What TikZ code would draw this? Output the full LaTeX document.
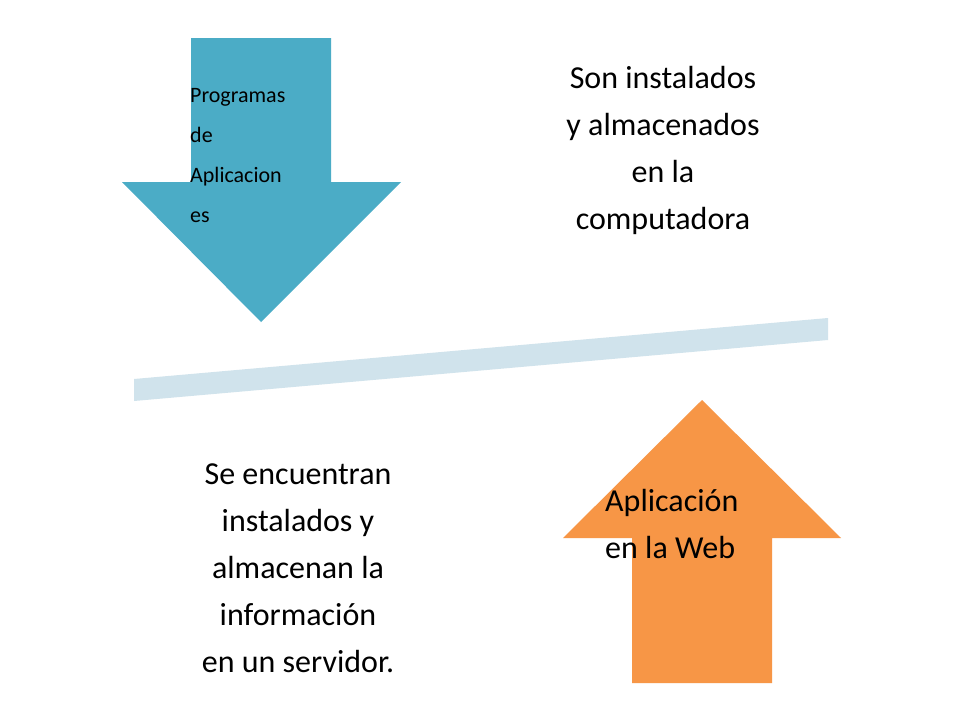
\documentclass[tikz,border=0pt]{standalone}
\usepackage{fontspec}
\setmainfont{Carlito}
\begin{document}
\begin{tikzpicture}[x=1pt,y=-1pt,
  big/.style={font=\fontsize{32}{47}\selectfont,align=center,inner sep=0pt},
  small/.style={font=\fontsize{22}{40}\selectfont,align=left,inner sep=0pt,anchor=north west}]
\useasboundingbox[fill=white] (0,0) rectangle (960,720);
\definecolor{blu}{HTML}{4BACC6}
\definecolor{ora}{HTML}{F79646}
\definecolor{bar}{HTML}{D0E3EC}
\fill[blu] (191,38) -- (331,38) -- (331,182) -- (401,182) -- (261,322) -- (122,182) -- (191,182) -- cycle;
\fill[ora] (632,683) -- (772,683) -- (772,538) -- (841,538) -- (702,400) -- (563,538) -- (632,538) -- cycle;
\fill[bar] (134,379) -- (828,318) -- (828,340) -- (134,401) -- cycle;
\node[small] (pa) at (190,88) {Programas\\de\\Aplicacion\\es};
\node[big] (t1) at (663,150) {Son instalados\\y almacenados\\en la\\computadora};
\node[big] (t2) at (298,568) {Se encuentran\\instalados y\\almacenan la\\información\\en un servidor.};
\node[big,align=left,anchor=west] (t3) at (605,524) {Aplicación\\en la Web};
\end{tikzpicture}
\end{document}
